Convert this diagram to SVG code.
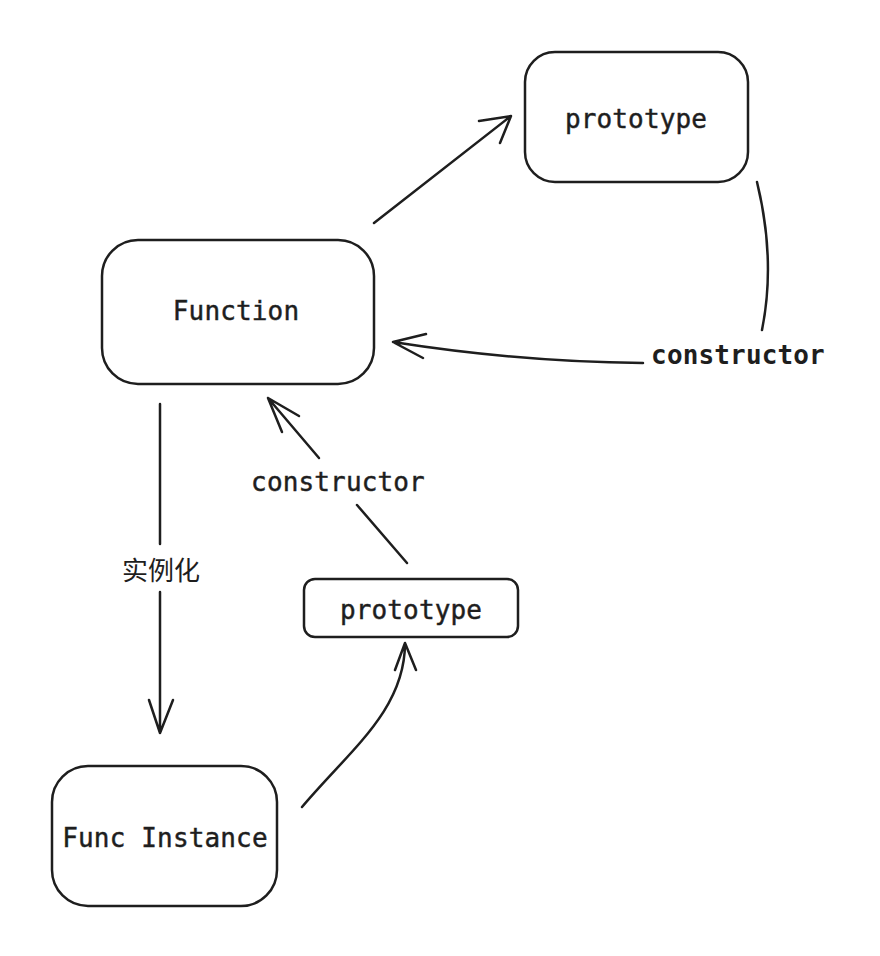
<svg xmlns="http://www.w3.org/2000/svg" width="880" height="956" viewBox="0 0 880 956">
<style>
.box{fill:none;stroke:#1e1e1e;stroke-width:2.5}
.ln{fill:none;stroke:#1e1e1e;stroke-width:2.5;stroke-linecap:round;stroke-linejoin:round}
.t{font-family:"DejaVu Sans Mono","Liberation Mono",monospace;font-size:26px;letter-spacing:0.15px;fill:#1e1e1e;stroke:#1e1e1e;stroke-width:0.45;text-anchor:middle}
.b{font-weight:bold;stroke-width:0}
.cjk{font-family:"Noto Sans CJK SC","Noto Sans",sans-serif;font-size:26px;fill:#1e1e1e;text-anchor:middle}
</style>
<rect width="880" height="956" fill="#ffffff"/>
<g id="node-prototype-top">
<rect class="box" x="525" y="52" width="223" height="130" rx="30"/>
<text class="t" x="636" y="128">prototype</text>
</g>
<g id="node-function">
<rect class="box" x="102" y="240" width="272" height="144" rx="36"/>
<text class="t" x="236" y="320">Function</text>
</g>
<g id="node-prototype-small">
<rect class="box" x="304" y="579" width="214" height="58" rx="11"/>
<text class="t" x="411" y="619">prototype</text>
</g>
<g id="node-func-instance">
<rect class="box" x="52" y="766" width="225" height="140" rx="36"/>
<text class="t" x="165" y="847">Func Instance</text>
</g>
<g id="connectors">
<path class="ln" d="M374,223 L511,116 M479,121 L511,116 L500,143"/>
<path class="ln" d="M757,182 Q776,260 762,330"/>
<path class="ln" d="M643,363 Q520,362 393,342 M426,334 L393,342 L423,358"/>
<text class="t b" x="738" y="364">constructor</text>
<path class="ln" d="M319,458 L268,398 M299,416 L268,398 L282,432"/>
<path class="ln" d="M357,505 L407,563"/>
<text class="t" x="338" y="491">constructor</text>
<path class="ln" d="M160,404 L160,544"/>
<path class="ln" d="M160,592 L160,733 M149,700 L160,733 L173,700"/>
<text class="cjk" x="161" y="580">实例化</text>
<path class="ln" d="M302,807 C350,750 405,710 405,643 M395,670 L405,643 L416,670"/>
</g>
</svg>
